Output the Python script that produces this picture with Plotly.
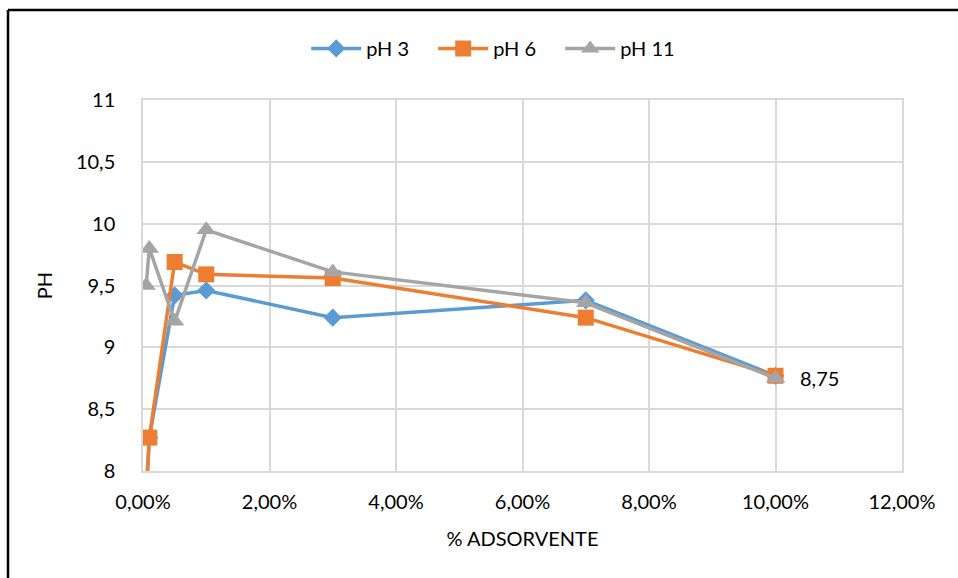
import plotly.graph_objects as go

x_vals = [0.0005, 0.001, 0.005, 0.01, 0.03, 0.07, 0.10]
ph3 = [7.8, 8.27, 9.42, 9.46, 9.24, 9.38, 8.77]
ph6 = [7.8, 8.27, 9.69, 9.59, 9.56, 9.24, 8.77]
ph11 = [9.5, 9.8, 9.21, 9.95, 9.61, 9.36, 8.75]
series_names = ["pH 3", "pH 6", "pH 11"]
colors = ["#5B9BD5", "#ED7D31", "#A5A5A5"]
symbols = ["diamond", "square", "triangle-up"]
sizes = [14, 16, 17]
x_ticks = [0, 0.02, 0.04, 0.06, 0.08, 0.10, 0.12]
y_ticks = [8, 8.5, 9, 9.5, 10, 10.5, 11]
y_tick_text = ["8", "8,5", "9", "9,5", "10", "10,5", "11"]
label_text = "8,75"

FONT = "Lato"
FS = 20
fig = go.Figure()
for name, ys, c, s, sz in zip(series_names, [ph3, ph6, ph11], colors, symbols, sizes):
    fig.add_trace(go.Scatter(
        x=x_vals, y=ys, name=name, mode="lines+markers",
        line=dict(color=c, width=3.5),
        marker=dict(color=c, symbol=s, size=sz),
        cliponaxis=True,
    ))

fig.add_annotation(x=x_vals[-1], y=ph11[-1], text=label_text, showarrow=False,
                   xanchor="left", yanchor="middle", xshift=22,
                   font=dict(family=FONT, size=FS, color="#000000"))

fig.update_layout(
    width=958, height=578,
    margin=dict(l=143, r=56, t=100, b=107),
    paper_bgcolor="white", plot_bgcolor="white",
    separators=",.",
    font=dict(family=FONT, size=FS, color="#000000"),
    legend=dict(orientation="h", x=0.466, xanchor="center", y=0.95, yanchor="top",
                yref="container", font=dict(family=FONT, size=FS),
                entrywidth=62, itemwidth=50),
    showlegend=True,
)

fig.update_xaxes(
    range=[0, 0.12], tickvals=x_ticks, tickformat=".2%",
    showgrid=True, gridcolor="#D9D9D9", gridwidth=1.5,
    showline=True, linecolor="#D9D9D9", linewidth=1.5, mirror=True,
    zeroline=False, ticks="", ticklabelstandoff=12,
    title=dict(text="% ADSORVENTE", font=dict(family=FONT, size=FS), standoff=20),
)
fig.update_yaxes(
    range=[8, 11], tickvals=y_ticks, ticktext=y_tick_text,
    showgrid=True, gridcolor="#D9D9D9", gridwidth=1.5,
    showline=True, linecolor="#D9D9D9", linewidth=1.5, mirror=True,
    zeroline=False, ticks="", ticklabelstandoff=22,
    title=dict(text="PH", font=dict(family=FONT, size=FS), standoff=18),
)

# outer chart border (left and top visible)
fig.add_shape(type="line", xref="paper", yref="paper",
              x0=-135/759, x1=1.2, y0=(578-10-107)/371, y1=(578-10-107)/371,
              line=dict(color="black", width=2.5))
fig.add_shape(type="line", xref="paper", yref="paper",
              x0=-135/759, x1=-135/759, y0=(578-10-107)/371, y1=-0.5,
              line=dict(color="black", width=2.5))

fig.write_html("out.html")
